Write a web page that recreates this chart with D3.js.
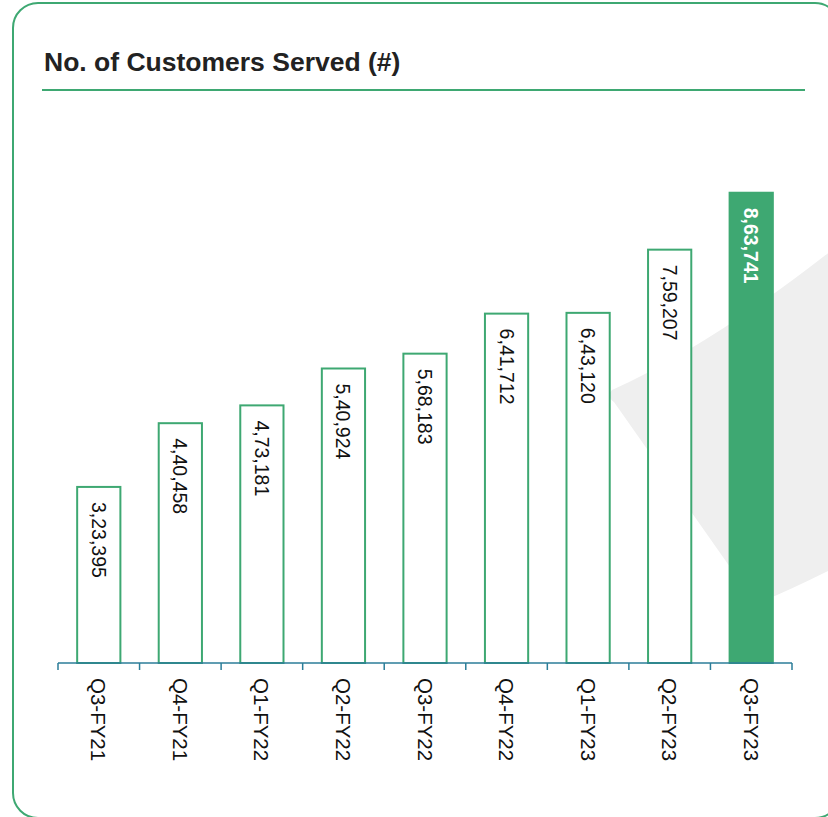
<!DOCTYPE html>
<html>
<head>
<meta charset="utf-8">
<script src="https://cdn.jsdelivr.net/npm/d3@7"></script>
<style>
  html, body { margin: 0; padding: 0; background: #ffffff; }
  svg { display: block; font-family: "Liberation Sans", Arial, Helvetica, sans-serif; }
</style>
</head>
<body>
<svg id="chart" width="828" height="817"></svg>
<script>
// Quarterly customers served
const quarters = ["Q3-FY21", "Q4-FY21", "Q1-FY22", "Q2-FY22", "Q3-FY22", "Q4-FY22", "Q1-FY23", "Q2-FY23", "Q3-FY23"];
const customers = [323395, 440458, 473181, 540924, 568183, 641712, 643120, 759207, 863741];
// Labels use Indian digit grouping
const valueLabels = ["3,23,395", "4,40,458", "4,73,181", "5,40,924", "5,68,183", "6,41,712", "6,43,120", "7,59,207", "8,63,741"];
const titleText = "No. of Customers Served (#)";

const GREEN = "#3ea872";
const AXIS = "#2b7d99";

const svg = d3.select("#chart");

// Card frame
svg.append("rect")
  .attr("x", 13).attr("y", 3)
  .attr("width", 827).attr("height", 815)
  .attr("rx", 25).attr("ry", 25)
  .attr("fill", "#ffffff")
  .attr("stroke", GREEN).attr("stroke-width", 2);

// Faint decorative leaf shape behind the latest bars
svg.append("path")
  .attr("d", "M612,390 Q606,396 614,402 L756,604 Q790,590 832,569 L832,250 Q711,345 612,390 Z")
  .attr("fill", "#efefef");

// Title and rule
svg.append("text")
  .attr("x", 44).attr("y", 71)
  .attr("font-size", 26.5).attr("font-weight", "bold")
  .attr("fill", "#222222")
  .text(titleText);

svg.append("line")
  .attr("x1", 42).attr("x2", 805)
  .attr("y1", 90).attr("y2", 90)
  .attr("stroke", GREEN).attr("stroke-width", 2);

// Scales
const x = d3.scaleBand()
  .domain(quarters)
  .range([58, 792])
  .paddingInner(0.47)
  .paddingOuter(0.235);

const y = d3.scaleLinear()
  .domain([0, 900000])
  .range([663, 173]);

const data = quarters.map((q, i) => ({ q, v: customers[i], label: valueLabels[i], last: i === quarters.length - 1 }));

// Bars
svg.append("g").selectAll("rect")
  .data(data)
  .join("rect")
  .attr("x", d => x(d.q))
  .attr("y", d => y(d.v))
  .attr("width", x.bandwidth())
  .attr("height", d => y(0) - y(d.v))
  .attr("fill", d => d.last ? GREEN : "#ffffff")
  .attr("stroke", GREEN)
  .attr("stroke-width", 2);

// Value labels, rotated inside each bar
svg.append("g").selectAll("text")
  .data(data)
  .join("text")
  .attr("transform", d => `translate(${x(d.q) + x.bandwidth() / 2},${y(d.v) + 15}) rotate(90)`)
  .attr("text-anchor", "start")
  .attr("dominant-baseline", "central")
  .attr("font-size", 19.5)
  .attr("font-weight", d => d.last ? "bold" : "normal")
  .attr("fill", d => d.last ? "#ffffff" : "#111111")
  .text(d => d.label);

// Category axis with ticks at band boundaries
const axisG = svg.append("g");
axisG.append("line")
  .attr("x1", x.range()[0]).attr("x2", x.range()[1])
  .attr("y1", y(0)).attr("y2", y(0))
  .attr("stroke", AXIS).attr("stroke-width", 1.5);

const step = x.step();
const boundaries = d3.range(quarters.length + 1).map(i => x.range()[0] + i * step);
axisG.selectAll("line.tick")
  .data(boundaries)
  .join("line")
  .attr("class", "tick")
  .attr("x1", d => d).attr("x2", d => d)
  .attr("y1", y(0)).attr("y2", y(0) + 7)
  .attr("stroke", AXIS).attr("stroke-width", 1.5);

axisG.selectAll("text")
  .data(quarters)
  .join("text")
  .attr("transform", d => `translate(${x(d) + x.bandwidth() / 2},${y(0) + 15}) rotate(90)`)
  .attr("text-anchor", "start")
  .attr("dominant-baseline", "central")
  .attr("font-size", 20.5)
  .attr("fill", "#111111")
  .text(d => d);
</script>
</body>
</html>
